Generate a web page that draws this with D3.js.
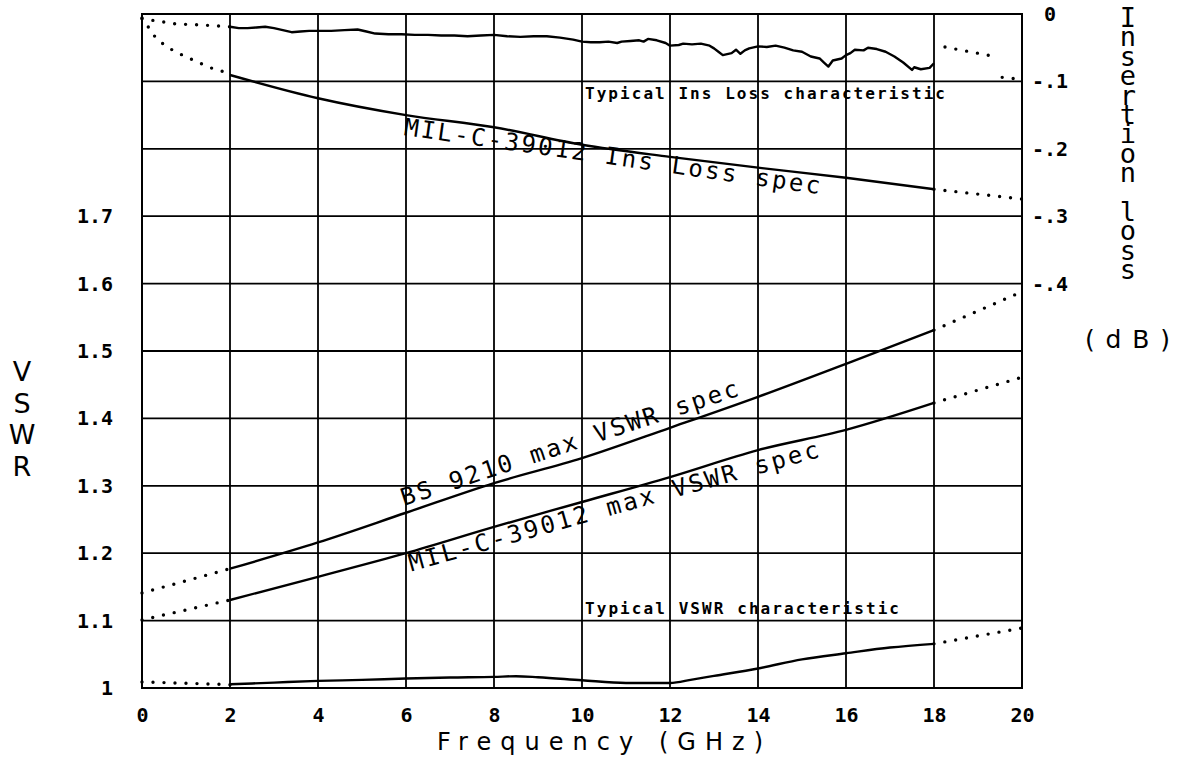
<!DOCTYPE html>
<html>
<head>
<meta charset="utf-8">
<script src="https://cdn.jsdelivr.net/npm/d3@7"></script>
<style>
  body { margin: 0; background: #fff; }
  svg { display: block; }
  .vtitle { writing-mode: vertical-rl; text-orientation: upright; }
</style>
</head>
<body>
<div id="chart"></div>
<script>
"use strict";

// === DATA (frequency in GHz) ===
const freqTicks = [0, 2, 4, 6, 8, 10, 12, 14, 16, 18, 20];
const vswrGrid = [1, 1.1, 1.2, 1.3, 1.4, 1.5, 1.6, 1.7, 1.8, 1.9, 2];
const vswrTicks = [1, 1.1, 1.2, 1.3, 1.4, 1.5, 1.6, 1.7];
const vswrTickLabels = ["1", "1.1", "1.2", "1.3", "1.4", "1.5", "1.6", "1.7"];
const lossTicks = [0, -0.1, -0.2, -0.3, -0.4];
const lossTickLabels = ["0", "-.1", "-.2", "-.3", "-.4"];

// typical insertion loss (dB), measured 2-18 GHz
const insLossTypical = [
  [2.0, -0.019], [2.2, -0.021], [2.4, -0.021], [2.6, -0.020], [2.8, -0.019],
  [3.0, -0.021], [3.2, -0.024], [3.4, -0.027], [3.6, -0.026], [3.8, -0.025],
  [4.0, -0.025], [4.3, -0.025], [4.6, -0.024], [4.9, -0.023], [5.1, -0.026],
  [5.3, -0.029], [5.6, -0.030], [5.9, -0.030], [6.2, -0.031], [6.5, -0.031],
  [6.8, -0.032], [7.1, -0.032], [7.4, -0.033], [7.7, -0.032], [8.0, -0.031],
  [8.3, -0.033], [8.6, -0.034], [8.9, -0.033], [9.2, -0.033], [9.5, -0.035],
  [9.8, -0.038], [10.0, -0.041], [10.2, -0.042], [10.4, -0.042], [10.6, -0.041],
  [10.8, -0.043], [10.9, -0.041], [11.1, -0.040], [11.3, -0.039], [11.4, -0.041],
  [11.5, -0.037], [11.7, -0.039], [11.9, -0.043], [12.0, -0.047], [12.2, -0.046],
  [12.3, -0.044], [12.5, -0.045], [12.7, -0.044], [12.9, -0.047], [13.0, -0.051],
  [13.1, -0.056], [13.2, -0.061], [13.4, -0.058], [13.5, -0.053], [13.6, -0.059],
  [13.7, -0.054], [13.8, -0.051], [14.0, -0.048], [14.2, -0.049], [14.4, -0.047],
  [14.6, -0.050], [14.8, -0.054], [15.0, -0.056], [15.2, -0.063], [15.4, -0.066],
  [15.5, -0.072], [15.6, -0.078], [15.7, -0.069], [15.9, -0.066], [16.0, -0.061],
  [16.1, -0.058], [16.2, -0.053], [16.4, -0.054], [16.5, -0.050], [16.7, -0.052],
  [16.9, -0.056], [17.1, -0.063], [17.3, -0.072], [17.5, -0.083], [17.55, -0.079],
  [17.7, -0.082], [17.9, -0.080], [18.0, -0.073]
];
const insLossTypDotL = [[0, -0.007], [0.3, -0.010], [0.8, -0.015], [1.3, -0.016], [2, -0.019]];
const insLossTypDotR1 = [[18.25, -0.049], [19.3, -0.062]];
const insLossTypDotR2 = [[19.55, -0.094], [20, -0.097]];

// MIL-C-39012 insertion loss spec (dB)
const insLossSpec = [
  [2, -0.0905], [4, -0.125], [6, -0.150], [8, -0.168], [10, -0.194],
  [12, -0.212], [14, -0.228], [16, -0.243], [18, -0.260]
];
const insLossSpecDotL = [
  [0, -0.006], [0.32, -0.036], [0.57, -0.049], [0.82, -0.058], [1.05, -0.065],
  [1.32, -0.073], [1.57, -0.080], [1.82, -0.085], [2, -0.0905]
];
const insLossSpecDotR = [[18, -0.260], [20, -0.2745]];

// BS 9210 max VSWR spec
const vswrBS = [
  [2, 1.177], [4, 1.216], [6, 1.260], [8, 1.304], [10, 1.341],
  [12, 1.386], [14, 1.432], [16, 1.481], [18, 1.531]
];
const vswrBSDotL = [[0, 1.141], [2, 1.177]];
const vswrBSDotR = [[18, 1.531], [20, 1.588]];

// MIL-C-39012 max VSWR spec
const vswrMil = [
  [2, 1.1306], [4, 1.165], [6, 1.200], [8, 1.239], [10, 1.276],
  [12, 1.313], [14, 1.353], [16, 1.383], [18, 1.423]
];
const vswrMilDotL = [[0, 1.101], [2, 1.1306]];
const vswrMilDotR = [[18, 1.423], [20, 1.461]];

// typical VSWR
const vswrTypical = [
  [2, 1.0055], [3, 1.008], [4, 1.0105], [5, 1.012], [6, 1.014], [7, 1.0155],
  [8, 1.0165], [8.5, 1.0175], [9, 1.016], [10, 1.0115], [11, 1.0075], [12, 1.0075],
  [12.5, 1.0125], [13, 1.018], [14, 1.029], [15, 1.0425], [16, 1.0515],
  [17, 1.06], [18, 1.0655]
];
const vswrTypDotL = [[0, 1.009], [2, 1.005]];
const vswrTypDotR = [[18, 1.0655], [20, 1.089]];

// === SVG SETUP ===
const svgWidth = 1180, svgHeight = 776;
const plot = { left: 142, right: 1022, top: 14, bottom: 688 };

const svg = d3.select("#chart")
  .append("svg")
  .attr("width", svgWidth)
  .attr("height", svgHeight);

svg.append("rect")
  .attr("width", svgWidth)
  .attr("height", svgHeight)
  .attr("fill", "#fff");

// === SCALES ===
const x = d3.scaleLinear().domain([0, 20]).range([plot.left, plot.right]);
const yV = d3.scaleLinear().domain([1, 2]).range([plot.bottom, plot.top]);
const yL = d3.scaleLinear().domain([0, -1]).range([plot.top, plot.bottom]);

const tickFont = "'DejaVu Sans Mono', monospace";
const titleFont = "'DejaVu Sans', sans-serif";

// === GRID ===
const grid = svg.append("g")
  .attr("stroke", "#000")
  .attr("stroke-width", 1.8);

grid.selectAll("line.v")
  .data(freqTicks)
  .enter()
  .append("line")
  .attr("x1", d => x(d)).attr("x2", d => x(d))
  .attr("y1", plot.top).attr("y2", plot.bottom);

grid.selectAll("line.h")
  .data(vswrGrid)
  .enter()
  .append("line")
  .attr("x1", plot.left).attr("x2", plot.right)
  .attr("y1", d => yV(d)).attr("y2", d => yV(d));

// === AXES ===
const xAxis = svg.append("g")
  .attr("transform", `translate(0, ${plot.bottom})`)
  .call(d3.axisBottom(x).tickValues(freqTicks).tickSize(0).tickPadding(20).tickFormat(d => d));

const yAxis = svg.append("g")
  .attr("transform", `translate(${plot.left}, 0)`)
  .call(d3.axisLeft(yV).tickValues(vswrTicks).tickSize(0).tickPadding(29)
    .tickFormat((d, i) => vswrTickLabels[i]));

const lAxis = svg.append("g")
  .attr("transform", `translate(${plot.right}, 0)`)
  .call(d3.axisRight(yL).tickValues(lossTicks).tickSize(0).tickPadding(28)
    .tickFormat((d, i) => lossTickLabels[i]));

[xAxis, yAxis, lAxis].forEach(g => {
  g.select(".domain").remove();
  g.selectAll("text")
    .attr("font-family", tickFont)
    .attr("font-size", "20px")
    .attr("font-weight", "bold")
    .attr("fill", "#000");
});
lAxis.selectAll("text").attr("text-anchor", "middle");

// === CURVES ===
const lineV = d3.line().x(d => x(d[0])).y(d => yV(d[1]));
const lineL = d3.line().x(d => x(d[0])).y(d => yL(d[1]));

function solid(data, gen, curve) {
  svg.append("path")
    .datum(data)
    .attr("d", gen.curve(curve || d3.curveLinear))
    .attr("fill", "none")
    .attr("stroke", "#000")
    .attr("stroke-width", 2.4)
    .attr("stroke-linejoin", "round");
}

function dotted(data, gen) {
  svg.append("path")
    .datum(data)
    .attr("d", gen.curve(d3.curveLinear))
    .attr("fill", "none")
    .attr("stroke", "#000")
    .attr("stroke-width", 3.4)
    .attr("stroke-linecap", "round")
    .attr("stroke-dasharray", "0,11");
}

solid(insLossTypical, lineL);
[insLossTypDotL, insLossTypDotR1, insLossTypDotR2].forEach(d => dotted(d, lineL));

solid(insLossSpec, lineL, d3.curveMonotoneX);
[insLossSpecDotL, insLossSpecDotR].forEach(d => dotted(d, lineL));

solid(vswrBS, lineV, d3.curveMonotoneX);
[vswrBSDotL, vswrBSDotR].forEach(d => dotted(d, lineV));

solid(vswrMil, lineV, d3.curveMonotoneX);
[vswrMilDotL, vswrMilDotR].forEach(d => dotted(d, lineV));

solid(vswrTypical, lineV, d3.curveMonotoneX);
[vswrTypDotL, vswrTypDotR].forEach(d => dotted(d, lineV));

// === CURVE LABELS ===
function slopeAngle(data, yScale, i0, i1) {
  const dx = x(data[i1][0]) - x(data[i0][0]);
  const dy = yScale(data[i1][1]) - yScale(data[i0][1]);
  return Math.atan2(dy, dx) * 180 / Math.PI;
}

function curveLabel(txt, data, yScale, idx, angle, offset, len) {
  svg.append("text")
    .attr("transform", `translate(${x(data[idx][0])}, ${yScale(data[idx][1])}) rotate(${angle})`)
    .attr("x", 0)
    .attr("y", offset)
    .attr("font-family", tickFont)
    .attr("font-size", "24px")
    .attr("textLength", len)
    .attr("lengthAdjust", "spacing")
    .text(txt);
}

curveLabel("MIL-C-39012 Ins Loss spec", insLossSpec, yL, 2,
  slopeAngle(insLossSpec, yL, 2, 7), 20, 420);
curveLabel("BS 9210 max VSWR spec", vswrBS, yV, 2,
  slopeAngle(vswrBS, yV, 2, 6), -7, 354);
curveLabel("MIL-C-39012 max VSWR spec", vswrMil, yV, 2,
  slopeAngle(vswrMil, yV, 2, 7), 19, 425);

svg.append("text")
  .attr("x", 585).attr("y", 99)
  .attr("font-family", tickFont)
  .attr("font-size", "16px")
  .attr("font-weight", "bold")
  .attr("textLength", 360)
  .attr("lengthAdjust", "spacing")
  .text("Typical Ins Loss characteristic");

svg.append("text")
  .attr("x", 585).attr("y", 614)
  .attr("font-family", tickFont)
  .attr("font-size", "16px")
  .attr("font-weight", "bold")
  .attr("textLength", 314)
  .attr("lengthAdjust", "spacing")
  .text("Typical VSWR characteristic");

// === PLOT FRAME ===
svg.append("rect")
  .attr("x", plot.left).attr("y", plot.top)
  .attr("width", plot.right - plot.left)
  .attr("height", plot.bottom - plot.top)
  .attr("fill", "none")
  .attr("stroke", "#000")
  .attr("stroke-width", 2);

// === AXIS TITLES ===
svg.append("text")
  .attr("x", 437).attr("y", 750)
  .attr("font-family", titleFont)
  .attr("font-size", "24px")
  .attr("textLength", 326)
  .attr("lengthAdjust", "spacing")
  .text("Frequency (GHz)");

svg.append("text")
  .attr("x", 1085).attr("y", 348)
  .attr("font-family", titleFont)
  .attr("font-size", "25px")
  .attr("textLength", 85)
  .attr("lengthAdjust", "spacing")
  .text("(dB)");

// stacked upright letters
svg.append("text")
  .attr("class", "vtitle")
  .attr("x", 22).attr("y", 356)
  .attr("font-family", titleFont)
  .attr("font-size", "27px")
  .attr("textLength", 126)
  .attr("lengthAdjust", "spacing")
  .text("VSWR");

svg.append("text")
  .attr("class", "vtitle")
  .attr("x", 1128).attr("y", 2)
  .attr("font-family", tickFont)
  .attr("font-size", "27px")
  .attr("textLength", 283)
  .attr("lengthAdjust", "spacing")
  .text("Insertion loss");
</script>
</body>
</html>
